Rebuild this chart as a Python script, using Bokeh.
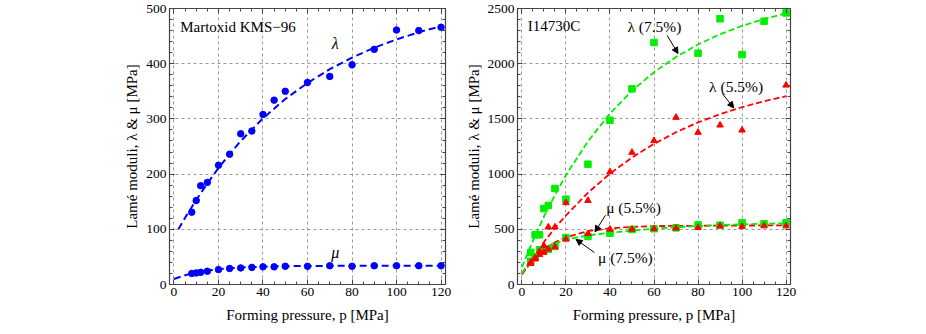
from bokeh.plotting import figure
from bokeh.layouts import row
from bokeh.models import Range1d, FixedTicker, LinearAxis, Arrow, NormalHead, CustomJSTickFormatter
from bokeh.core.properties import value
from bokeh.embed import file_html
from bokeh.resources import INLINE

FONT = "Liberation Serif"

# ---------------- Left panel data (Martoxid KMS-96) ----------------
p_lam_l = [8, 10, 12, 15, 20, 25, 30, 35, 40, 45, 50, 60, 70, 80, 90, 100, 110, 120]
lam_l = [131, 152, 179, 185, 216, 236, 273, 278, 308, 334, 350, 366, 377, 398, 426, 461, 460, 466]
p_mu_l = [8, 10, 12, 15, 20, 25, 30, 35, 40, 45, 50, 60, 70, 80, 90, 100, 110, 120]
mu_l = [20, 21, 22, 24, 27, 29, 30, 31, 32, 32, 33, 33, 34, 33, 34, 34, 34, 34]

fit_p_lam_l = [2, 5, 10, 15, 20, 25, 30, 40, 50, 60, 70, 80, 90, 100, 110, 120]
fit_lam_l = [100, 121, 153, 183, 211, 236, 260, 301, 336, 365, 390, 411, 429, 444, 457, 468]
fit_p_mu_l = [0, 5, 10, 15, 20, 25, 30, 40, 50, 60, 80, 100, 120]
fit_mu_l = [10, 16.8, 21.7, 25.2, 27.7, 29.5, 30.8, 32.3, 33.1, 33.6, 33.9, 34, 34]

# ---------------- Right panel data (I14730C) ----------------
lam75_p = [4, 6, 8, 10, 12, 15, 20, 30, 40, 50, 60, 80, 90, 100, 110, 120]
lam75 = [290, 450, 450, 688, 716, 870, 773, 1090, 1488, 1772, 2192, 2095, 2407, 2083, 2385, 2460]
mu75_p = [4, 6, 8, 10, 12, 15, 20, 30, 40, 50, 60, 70, 80, 90, 100, 110, 120]
mu75 = [210, 250, 315, 320, 320, 345, 425, 435, 465, 498, 505, 513, 540, 537, 560, 550, 560]
lam55_p = [4, 6, 8, 10, 12, 15, 20, 30, 40, 50, 60, 70, 80, 90, 100, 120]
lam55 = [200, 240, 300, 350, 520, 520, 740, 760, 1020, 1196, 1302, 1513, 1377, 1443, 1398, 1805]
mu55_p = [4, 6, 8, 10, 12, 15, 20, 30, 40, 50, 60, 70, 80, 90, 100, 110, 120]
mu55 = [190, 230, 270, 290, 320, 340, 410, 460, 500, 500, 505, 510, 515, 530, 525, 530, 530]

fit_p_r = [0, 5, 10, 15, 20, 30, 40, 50, 60, 70, 80, 90, 100, 110, 120]
fit_lam75 = [156, 397, 614, 811, 990, 1297, 1549, 1755, 1923, 2061, 2174, 2267, 2343, 2405, 2456]
fit_lam55 = [100, 249, 385, 511, 626, 831, 1004, 1150, 1274, 1379, 1468, 1543, 1606, 1660, 1706]
fit_mu55 = [90, 224, 317, 383, 428, 483, 509, 522, 529, 531, 532, 533, 534, 535, 535]
fit_mu75 = [100, 225, 317, 370, 408, 445, 468, 488, 505, 518, 530, 538, 545, 550, 555]

x_ticks = [0, 20, 40, 60, 80, 100, 120]
x_minor = list(range(0, 125, 5))
yl_ticks = [0, 100, 200, 300, 400, 500]
yl_minor = list(range(0, 520, 20))
yr_ticks = [0, 500, 1000, 1500, 2000, 2500]
yr_minor = list(range(0, 2600, 100))

# annotations (text, x, y) and arrows (x0, y0, x1, y1)
left_texts = [("λ", 72.5, 437), ("μ", 72.5, 58)]
right_texts = [("λ (7.5%)", 60.2, 2337), ("λ (5.5%)", 97.3, 1793),
               ("μ (5.5%)", 50.7, 697), ("μ (7.5%)", 47.0, 245)]
right_arrows = [(66.0, 2255, 70.9, 2092), (91.0, 1730, 96.2, 1600),
                (38.0, 628, 33.2, 477), (32.9, 290, 24.6, 408)]

AX = "#444444"


def style_ticks(ax):
    ax.major_tick_in = 5
    ax.major_tick_out = 0
    ax.minor_tick_in = 3
    ax.minor_tick_out = 0
    ax.axis_line_color = AX
    ax.major_tick_line_color = AX
    ax.minor_tick_line_color = AX


def make_fig(width, yr, yt, ymin, bl, br):
    p = figure(width=width, height=326, output_backend="svg", toolbar_location=None,
               x_range=Range1d(-2, 122), y_range=Range1d(*yr),
               min_border_left=bl, min_border_right=br, min_border_top=8, min_border_bottom=42,
               background_fill_color="white", border_fill_color="white")
    p.outline_line_color = AX
    p.outline_line_width = 1.2
    for ax, ticks, minor in ((p.xaxis[0], x_ticks, x_minor), (p.yaxis[0], yt, ymin)):
        ax.ticker = FixedTicker(ticks=ticks, minor_ticks=minor)
        style_ticks(ax)
        ax.major_label_text_font = FONT
        ax.major_label_text_font_size = "13.5px"
        ax.major_label_text_color = "black"
        ax.axis_label_text_font = FONT
        ax.axis_label_text_font_size = "15px"
        ax.axis_label_text_font_style = "normal"
        ax.axis_label_text_color = "black"
        ax.major_label_standoff = 3
    p.xaxis.axis_label = "Forming pressure, p [MPa]"
    p.yaxis.axis_label = "Lamé moduli, λ & μ [MPa]"
    p.xaxis.axis_label_standoff = 8
    p.yaxis.axis_label_standoff = 3
    # tick marks on top and right, without labels
    for loc, ticks, minor in (("above", x_ticks, x_minor), ("right", yt, ymin)):
        a = LinearAxis(ticker=FixedTicker(ticks=ticks, minor_ticks=minor),
                       formatter=CustomJSTickFormatter(code="return ''"))
        a.major_label_standoff = 0
        style_ticks(a)
        p.add_layout(a, loc)
    p.xgrid.ticker = FixedTicker(ticks=x_ticks)
    p.ygrid.ticker = FixedTicker(ticks=yt)
    for g in (p.xgrid[0], p.ygrid[0]):
        g.grid_line_color = "#999999"
        g.grid_line_dash = "3 3"
        g.grid_line_width = 1
    return p


# ---------------- Left figure ----------------
p1 = make_fig(454, (0, 500), yl_ticks, yl_minor, 169, 9)
blue = "#0000ff"
p1.line(fit_p_lam_l, fit_lam_l, line_color=blue, line_width=2, line_dash="7 4")
p1.line(fit_p_mu_l, fit_mu_l, line_color=blue, line_width=2, line_dash="7 4")
p1.scatter(p_lam_l, lam_l, marker="circle", size=6.5, fill_color=blue, line_color=blue)
p1.scatter(p_mu_l, mu_l, marker="circle", size=6.5, fill_color=blue, line_color=blue)
p1.text(x=[2.8], y=[466], text=["Martoxid KMS−96"], text_font=value(FONT),
        text_font_size="15px", text_align="left", text_baseline="middle", text_color="black")
p1.text(x=[t[1] for t in left_texts], y=[t[2] for t in left_texts], text=[t[0] for t in left_texts],
        text_font=value(FONT), text_font_size="16px", text_font_style="italic",
        text_align="center", text_baseline="middle", text_color="black")

# ---------------- Right figure ----------------
p2 = make_fig(350, (0, 2500), yr_ticks, yr_minor, 63, 14)
green = "#00ee00"
red = "#ff0000"
p2.line(fit_p_r, fit_lam75, line_color=green, line_width=1.8, line_dash="6 3")
p2.line(fit_p_r, fit_lam55, line_color=red, line_width=1.8, line_dash="6 3")
p2.line(fit_p_r, fit_mu55, line_color=red, line_width=1.8, line_dash="6 3")
p2.line(fit_p_r, fit_mu75, line_color=green, line_width=1.8, line_dash="6 3")
p2.scatter(lam75_p, lam75, marker="square", size=6.5, fill_color=green, line_color=green)
p2.scatter(mu75_p, mu75, marker="square", size=6.5, fill_color=green, line_color=green)
p2.scatter(lam55_p, lam55, marker="triangle", size=6.5, fill_color=red, line_color=red)
p2.scatter(mu55_p, mu55, marker="triangle", size=6.5, fill_color=red, line_color=red)
p2.text(x=[2.7], y=[2337], text=["I14730C"], text_font=value(FONT),
        text_font_size="15px", text_align="left", text_baseline="middle", text_color="black")
p2.text(x=[t[1] for t in right_texts], y=[t[2] for t in right_texts], text=[t[0] for t in right_texts],
        text_font=value(FONT), text_font_size="15.5px",
        text_align="center", text_baseline="middle", text_color="black")
for (x0, y0, x1, y1) in right_arrows:
    p2.add_layout(Arrow(end=NormalHead(size=6, fill_color="black", line_color="black"),
                        x_start=x0, y_start=y0, x_end=x1, y_end=y1,
                        line_color="black", line_width=1))

layout = row(p1, p2)
open("out.html", "w").write(file_html(layout, INLINE))
